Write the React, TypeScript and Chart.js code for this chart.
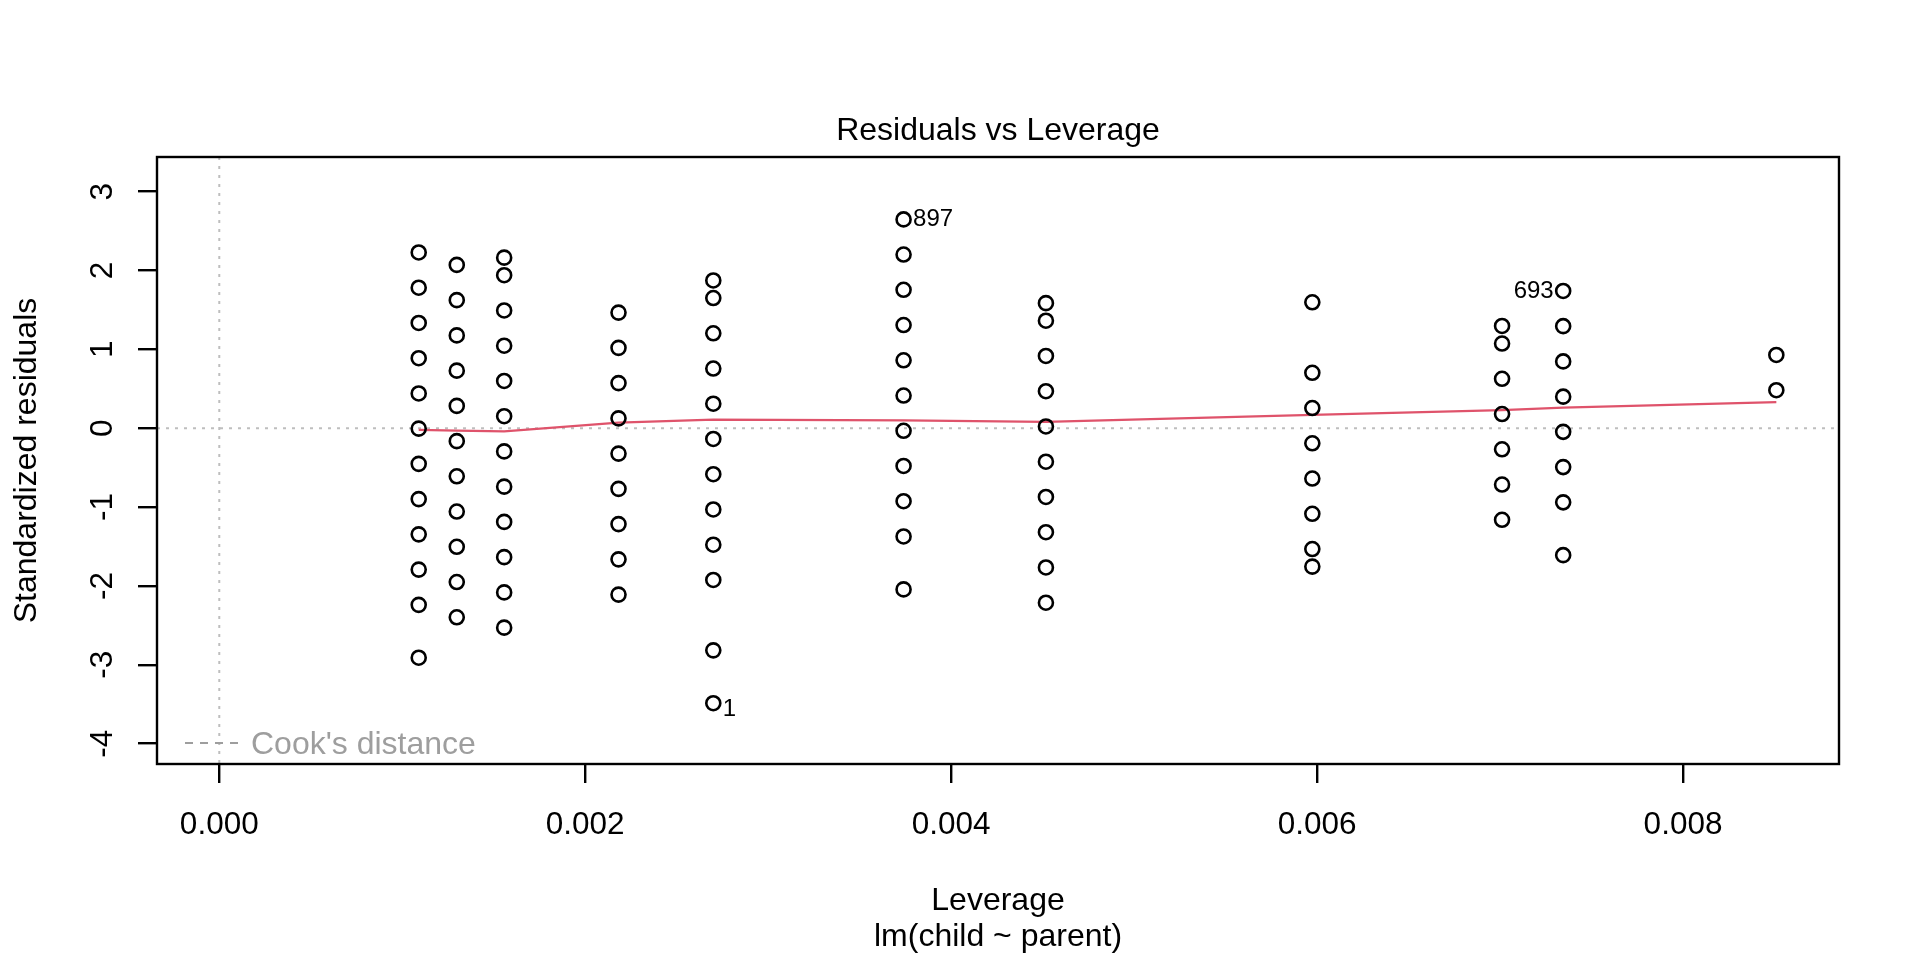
import React, { useEffect, useRef } from "react";
import { Chart, registerables } from "chart.js";

Chart.register(...registerables);

// Leverage (hat values) of each parent-height group, left to right
const leverage = [0.00109, 0.001298, 0.001557, 0.002182, 0.0027, 0.00374, 0.004518, 0.005974, 0.007011, 0.007345, 0.00851];

// Standardized residuals for each leverage column (parent height group)
const residP68_5 = [2.229, 1.782, 1.335, 0.888, 0.441, -0.005, -0.452, -0.899, -1.346, -1.793, -2.24, -2.91];
const residP67_5 = [2.071, 1.624, 1.177, 0.73, 0.283, -0.164, -0.61, -1.057, -1.504, -1.951, -2.398];
const residP69_5 = [2.163, 1.94, 1.493, 1.046, 0.599, 0.152, -0.294, -0.741, -1.188, -1.635, -2.082, -2.529];
const residP66_5 = [1.466, 1.019, 0.572, 0.125, -0.322, -0.769, -1.216, -1.663, -2.11];
const residP70_5 = [1.874, 1.651, 1.204, 0.757, 0.311, -0.136, -0.583, -1.03, -1.477, -1.924, -2.817, -3.487];
const residP65_5 = [2.648, 2.202, 1.755, 1.308, 0.861, 0.414, -0.033, -0.479, -0.926, -1.373, -2.044];
const residP71_5 = [1.586, 1.363, 0.916, 0.469, 0.022, -0.425, -0.872, -1.319, -1.766, -2.213];
const residP64_5 = [1.597, 0.703, 0.256, -0.191, -0.638, -1.085, -1.532, -1.755];
const residP72_5 = [1.297, 1.074, 0.627, 0.18, -0.267, -0.714, -1.161];
const residP64 = [1.741, 1.294, 0.847, 0.4, -0.046, -0.493, -0.94, -1.61];
const residP73 = [0.929, 0.482];

// Red smoother line
const smoothY = [-0.02, -0.03, -0.04, 0.07, 0.11, 0.1, 0.08, 0.17, 0.23, 0.26, 0.33];

// Identified observations
const idText = ["897", "693", "1"];
const idX = [0.00374, 0.007345, 0.0027];
const idY = [2.648, 1.741, -3.487];
const idSide = ["right", "left", "right"];

// Axis ticks
const xTicks = [0, 0.002, 0.004, 0.006, 0.008];
const yTicks = [-4, -3, -2, -1, 0, 1, 2, 3];
const xMin = -0.0003404;
const xMax = 0.0088525;
const yMin = -4.2583;
const yMax = 3.4394;

const FONT = "'Liberation Sans', Arial, Helvetica, sans-serif";
const FS = 32;
const FS_TICK = 31.5;

export default function App() {
  const ref = useRef<HTMLCanvasElement | null>(null);

  useEffect(() => {
    document.body.style.margin = "0";
    const canvas = ref.current;
    if (!canvas) return;

    const columns = [residP68_5, residP67_5, residP69_5, residP66_5, residP70_5, residP65_5, residP71_5, residP64_5, residP72_5, residP64, residP73];
    const points: { x: number; y: number }[] = [];
    columns.forEach((col, i) => col.forEach((v) => points.push({ x: leverage[i], y: v })));
    const smooth = leverage.map((h, i) => ({ x: h, y: smoothY[i] }));

    const decor = {
      id: "decor",
      beforeDatasetsDraw(chart: any) {
        const { ctx, chartArea: a, scales } = chart;
        const x0 = scales.x.getPixelForValue(0);
        const y0 = scales.y.getPixelForValue(0);
        ctx.save();
        ctx.strokeStyle = "#BEBEBE";
        ctx.lineWidth = 2;
        ctx.setLineDash([3, 6]);
        ctx.beginPath();
        ctx.moveTo(a.left, y0);
        ctx.lineTo(a.right, y0);
        ctx.moveTo(x0, a.top);
        ctx.lineTo(x0, a.bottom);
        ctx.stroke();
        ctx.restore();
      },
      afterDraw(chart: any) {
        const { ctx, chartArea: a, scales } = chart;
        ctx.save();
        // frame
        ctx.strokeStyle = "#000";
        ctx.lineWidth = 2.4;
        ctx.strokeRect(a.left, a.top, a.right - a.left, a.bottom - a.top);

        ctx.fillStyle = "#000";
        ctx.font = `${FS_TICK}px ${FONT}`;
        // y tick labels (rotated, like R)
        scales.y.ticks.forEach((t: any) => {
          const py = scales.y.getPixelForValue(t.value);
          ctx.save();
          ctx.translate(112, py);
          ctx.rotate(-Math.PI / 2);
          ctx.textAlign = "center";
          ctx.textBaseline = "alphabetic";
          ctx.fillText(String(t.value), 0, 0);
          ctx.restore();
        });
        ctx.font = `${FS}px ${FONT}`;
        const cx = (a.left + a.right) / 2;
        ctx.textAlign = "center";
        ctx.textBaseline = "alphabetic";
        ctx.fillText("Residuals vs Leverage", cx, 140);
        ctx.fillText("Leverage", cx, 910);
        ctx.fillText("lm(child ~ parent)", cx, 946);
        ctx.save();
        ctx.translate(36, (a.top + a.bottom) / 2);
        ctx.rotate(-Math.PI / 2);
        ctx.fillText("Standardized residuals", 0, 0);
        ctx.restore();

        // Cook's distance legend
        const ly = a.bottom - 21;
        ctx.strokeStyle = "#9E9E9E";
        ctx.lineWidth = 2;
        ctx.setLineDash([8, 7]);
        ctx.beginPath();
        ctx.moveTo(a.left + 28, ly);
        ctx.lineTo(a.left + 86, ly);
        ctx.stroke();
        ctx.setLineDash([]);
        ctx.fillStyle = "#9E9E9E";
        ctx.textAlign = "left";
        ctx.fillText("Cook's distance", a.left + 94, ly + 11);

        // id labels
        ctx.fillStyle = "#000";
        ctx.font = `24px ${FONT}`;
        idText.forEach((txt, i) => {
          const px = scales.x.getPixelForValue(idX[i]);
          const py = scales.y.getPixelForValue(idY[i]);
          const dy = 7 + (idY[i] < 0 ? 6 : 0);
          if (idSide[i] === "right") {
            ctx.textAlign = "left";
            ctx.fillText(txt, px + 9.5, py + dy);
          } else {
            ctx.textAlign = "right";
            ctx.fillText(txt, px - 9.5, py + dy);
          }
        });
        ctx.restore();
      },
    };

    const chart = new Chart(canvas, {
      type: "scatter",
      data: {
        datasets: [
          {
            label: "residuals",
            data: points,
            pointStyle: "circle",
            pointRadius: 7,
            pointBorderWidth: 2.6,
            pointBorderColor: "#000",
            pointBackgroundColor: "rgba(0,0,0,0)",
            showLine: false,
          } as any,
          {
            label: "smoother",
            data: smooth,
            showLine: true,
            borderColor: "#DF536B",
            borderWidth: 2.2,
            pointRadius: 0,
            tension: 0,
            fill: false,
          } as any,
        ],
      },
      options: {
        responsive: false,
        animation: false,
        devicePixelRatio: 1,
        events: [],
        layout: { padding: { left: 0, right: 81, top: 157, bottom: 0 } },
        plugins: { legend: { display: false }, tooltip: { enabled: false }, title: { display: false } },
        scales: {
          x: {
            type: "linear",
            min: xMin,
            max: xMax,
            afterBuildTicks: (s: any) => {
              s.ticks = xTicks.map((v) => ({ value: v }));
            },
            afterFit: (s: any) => {
              s.height = 196;
            },
            border: { display: false },
            grid: { drawOnChartArea: false, drawTicks: true, tickLength: 19, color: "#000", lineWidth: 2.4 },
            ticks: {
              color: "#000",
              font: { family: FONT, size: FS_TICK },
              padding: 23,
              maxRotation: 0,
              autoSkip: false,
              callback: (v: any) => Number(v).toFixed(3),
            },
          },
          y: {
            type: "linear",
            min: yMin,
            max: yMax,
            afterBuildTicks: (s: any) => {
              s.ticks = yTicks.map((v) => ({ value: v }));
            },
            afterFit: (s: any) => {
              s.width = 157;
            },
            border: { display: false },
            grid: { drawOnChartArea: false, drawTicks: true, tickLength: 19, color: "#000", lineWidth: 2.4 },
            ticks: { display: false },
          },
        },
      },
      plugins: [decor],
    } as any);

    return () => chart.destroy();
  }, []);

  return (
    <div style={{ position: "absolute", left: 0, top: 0, width: 1920, height: 960, background: "#fff" }}>
      <canvas ref={ref} width={1920} height={960} style={{ display: "block", width: 1920, height: 960 }} />
    </div>
  );
}
